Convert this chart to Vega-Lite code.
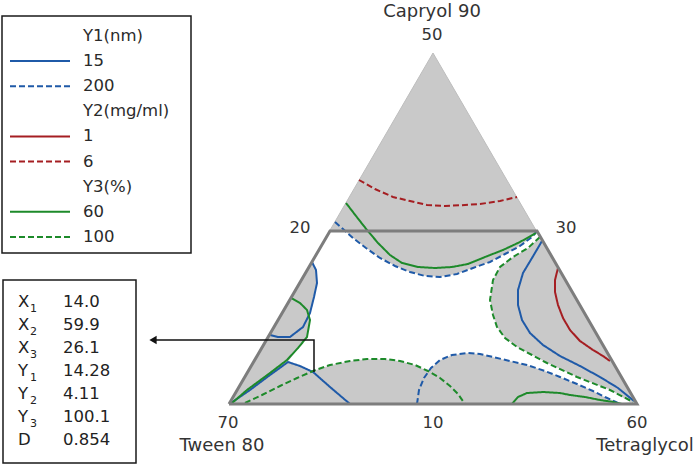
{
"$schema":"https://vega.github.io/schema/vega-lite/v6.json",
"width":699,"height":464,"padding":0,
"autosize":{"type":"fit","contains":"padding"},
"background":"white",
"config":{"view":{"stroke":null}},
"datasets":{
"poly":[
{"p":"tri","x":229,"y":404},{"p":"tri","x":433,"y":53},{"p":"tri","x":637,"y":404},{"p":"tri","x":229,"y":404},
{"p":"trap","x":229,"y":404},{"p":"trap","x":330,"y":231},{"p":"trap","x":537,"y":231},{"p":"trap","x":637,"y":404},{"p":"trap","x":229,"y":404},
{"p":"white","x":330,"y":231},{"p":"white","x":345,"y":231},{"p":"white","x":353,"y":238},{"p":"white","x":366,"y":248},{"p":"white","x":380,"y":258},{"p":"white","x":395,"y":266},{"p":"white","x":410,"y":272},{"p":"white","x":425,"y":276},{"p":"white","x":440,"y":277},{"p":"white","x":457,"y":274},{"p":"white","x":473,"y":268},{"p":"white","x":490,"y":262},{"p":"white","x":505,"y":254},{"p":"white","x":520,"y":246},{"p":"white","x":532,"y":237},{"p":"white","x":537,"y":231},{"p":"white","x":540,"y":237},{"p":"white","x":528,"y":248},{"p":"white","x":513,"y":257},{"p":"white","x":500,"y":267},{"p":"white","x":493,"y":280},{"p":"white","x":490,"y":300},{"p":"white","x":493,"y":315},{"p":"white","x":497,"y":327},{"p":"white","x":505,"y":338},{"p":"white","x":517,"y":347},{"p":"white","x":532,"y":355},{"p":"white","x":547,"y":363},{"p":"white","x":577,"y":377},{"p":"white","x":610,"y":390},{"p":"white","x":630,"y":402},{"p":"white","x":620,"y":403},{"p":"white","x":605,"y":397},{"p":"white","x":593,"y":391},{"p":"white","x":577,"y":384},{"p":"white","x":560,"y":377},{"p":"white","x":545,"y":371},{"p":"white","x":527,"y":365},{"p":"white","x":510,"y":361},{"p":"white","x":493,"y":357},{"p":"white","x":480,"y":354},{"p":"white","x":467,"y":353},{"p":"white","x":452,"y":355},{"p":"white","x":440,"y":360},{"p":"white","x":431,"y":368},{"p":"white","x":428,"y":371},{"p":"white","x":415,"y":365},{"p":"white","x":400,"y":361},{"p":"white","x":385,"y":359},{"p":"white","x":367,"y":359},{"p":"white","x":350,"y":361},{"p":"white","x":330,"y":365},{"p":"white","x":313,"y":371},{"p":"white","x":300,"y":366},{"p":"white","x":288,"y":362},{"p":"white","x":298,"y":348},{"p":"white","x":307,"y":337},{"p":"white","x":310,"y":320},{"p":"white","x":310,"y":314},{"p":"white","x":314,"y":297},{"p":"white","x":317,"y":283},{"p":"white","x":316,"y":270},{"p":"white","x":312,"y":262},{"p":"white","x":330,"y":231}
],
"contours":[
{"c":"1a","r":"Y1","l":"low","x":312,"y":262},{"c":"1a","r":"Y1","l":"low","x":316,"y":270},{"c":"1a","r":"Y1","l":"low","x":317,"y":283},{"c":"1a","r":"Y1","l":"low","x":314,"y":297},{"c":"1a","r":"Y1","l":"low","x":310,"y":313},{"c":"1a","r":"Y1","l":"low","x":303,"y":327},{"c":"1a","r":"Y1","l":"low","x":290,"y":337},{"c":"1a","r":"Y1","l":"low","x":278,"y":337},{"c":"1a","r":"Y1","l":"low","x":270,"y":335},
{"c":"1b","r":"Y1","l":"low","x":231,"y":403},{"c":"1b","r":"Y1","l":"low","x":250,"y":390},{"c":"1b","r":"Y1","l":"low","x":270,"y":375},{"c":"1b","r":"Y1","l":"low","x":288,"y":362},{"c":"1b","r":"Y1","l":"low","x":300,"y":366},{"c":"1b","r":"Y1","l":"low","x":313,"y":372},{"c":"1b","r":"Y1","l":"low","x":330,"y":387},{"c":"1b","r":"Y1","l":"low","x":350,"y":404},
{"c":"1c","r":"Y1","l":"low","x":542,"y":241},{"c":"1c","r":"Y1","l":"low","x":532,"y":258},{"c":"1c","r":"Y1","l":"low","x":523,"y":273},{"c":"1c","r":"Y1","l":"low","x":518,"y":290},{"c":"1c","r":"Y1","l":"low","x":518,"y":305},{"c":"1c","r":"Y1","l":"low","x":522,"y":320},{"c":"1c","r":"Y1","l":"low","x":530,"y":333},{"c":"1c","r":"Y1","l":"low","x":543,"y":345},{"c":"1c","r":"Y1","l":"low","x":560,"y":356},{"c":"1c","r":"Y1","l":"low","x":580,"y":366},{"c":"1c","r":"Y1","l":"low","x":600,"y":377},{"c":"1c","r":"Y1","l":"low","x":618,"y":388},{"c":"1c","r":"Y1","l":"low","x":634,"y":401},
{"c":"1d","r":"Y1","l":"high","x":335,"y":222},{"c":"1d","r":"Y1","l":"high","x":343,"y":229},{"c":"1d","r":"Y1","l":"high","x":353,"y":238},{"c":"1d","r":"Y1","l":"high","x":366,"y":248},{"c":"1d","r":"Y1","l":"high","x":380,"y":258},{"c":"1d","r":"Y1","l":"high","x":395,"y":266},{"c":"1d","r":"Y1","l":"high","x":410,"y":272},{"c":"1d","r":"Y1","l":"high","x":425,"y":276},{"c":"1d","r":"Y1","l":"high","x":440,"y":277},{"c":"1d","r":"Y1","l":"high","x":457,"y":274},{"c":"1d","r":"Y1","l":"high","x":473,"y":268},{"c":"1d","r":"Y1","l":"high","x":490,"y":262},{"c":"1d","r":"Y1","l":"high","x":505,"y":254},{"c":"1d","r":"Y1","l":"high","x":520,"y":246},{"c":"1d","r":"Y1","l":"high","x":532,"y":237},{"c":"1d","r":"Y1","l":"high","x":537,"y":231},
{"c":"1e","r":"Y1","l":"high","x":417,"y":404},{"c":"1e","r":"Y1","l":"high","x":419,"y":390},{"c":"1e","r":"Y1","l":"high","x":424,"y":378},{"c":"1e","r":"Y1","l":"high","x":431,"y":368},{"c":"1e","r":"Y1","l":"high","x":440,"y":360},{"c":"1e","r":"Y1","l":"high","x":452,"y":355},{"c":"1e","r":"Y1","l":"high","x":467,"y":353},{"c":"1e","r":"Y1","l":"high","x":480,"y":354},{"c":"1e","r":"Y1","l":"high","x":493,"y":357},{"c":"1e","r":"Y1","l":"high","x":510,"y":361},{"c":"1e","r":"Y1","l":"high","x":527,"y":365},{"c":"1e","r":"Y1","l":"high","x":545,"y":371},{"c":"1e","r":"Y1","l":"high","x":560,"y":377},{"c":"1e","r":"Y1","l":"high","x":577,"y":384},{"c":"1e","r":"Y1","l":"high","x":593,"y":391},{"c":"1e","r":"Y1","l":"high","x":605,"y":397},{"c":"1e","r":"Y1","l":"high","x":620,"y":404},
{"c":"2a","r":"Y2","l":"low","x":558,"y":268},{"c":"2a","r":"Y2","l":"low","x":555,"y":280},{"c":"2a","r":"Y2","l":"low","x":555,"y":292},{"c":"2a","r":"Y2","l":"low","x":558,"y":305},{"c":"2a","r":"Y2","l":"low","x":563,"y":318},{"c":"2a","r":"Y2","l":"low","x":570,"y":330},{"c":"2a","r":"Y2","l":"low","x":580,"y":341},{"c":"2a","r":"Y2","l":"low","x":593,"y":350},{"c":"2a","r":"Y2","l":"low","x":603,"y":356},{"c":"2a","r":"Y2","l":"low","x":610,"y":361},
{"c":"2b","r":"Y2","l":"high","x":359,"y":180},{"c":"2b","r":"Y2","l":"high","x":375,"y":189},{"c":"2b","r":"Y2","l":"high","x":393,"y":197},{"c":"2b","r":"Y2","l":"high","x":410,"y":201},{"c":"2b","r":"Y2","l":"high","x":427,"y":205},{"c":"2b","r":"Y2","l":"high","x":445,"y":206},{"c":"2b","r":"Y2","l":"high","x":465,"y":205},{"c":"2b","r":"Y2","l":"high","x":480,"y":204},{"c":"2b","r":"Y2","l":"high","x":500,"y":201},{"c":"2b","r":"Y2","l":"high","x":517,"y":197},
{"c":"3a","r":"Y3","l":"low","x":346,"y":203},{"c":"3a","r":"Y3","l":"low","x":356,"y":216},{"c":"3a","r":"Y3","l":"low","x":367,"y":230},{"c":"3a","r":"Y3","l":"low","x":378,"y":243},{"c":"3a","r":"Y3","l":"low","x":390,"y":255},{"c":"3a","r":"Y3","l":"low","x":402,"y":263},{"c":"3a","r":"Y3","l":"low","x":418,"y":267},{"c":"3a","r":"Y3","l":"low","x":435,"y":268},{"c":"3a","r":"Y3","l":"low","x":452,"y":267},{"c":"3a","r":"Y3","l":"low","x":468,"y":264},{"c":"3a","r":"Y3","l":"low","x":485,"y":257},{"c":"3a","r":"Y3","l":"low","x":503,"y":250},{"c":"3a","r":"Y3","l":"low","x":520,"y":242},{"c":"3a","r":"Y3","l":"low","x":536,"y":233},
{"c":"3b","r":"Y3","l":"low","x":291,"y":298},{"c":"3b","r":"Y3","l":"low","x":300,"y":303},{"c":"3b","r":"Y3","l":"low","x":307,"y":310},{"c":"3b","r":"Y3","l":"low","x":310,"y":320},{"c":"3b","r":"Y3","l":"low","x":307,"y":337},{"c":"3b","r":"Y3","l":"low","x":298,"y":348},{"c":"3b","r":"Y3","l":"low","x":287,"y":360},{"c":"3b","r":"Y3","l":"low","x":270,"y":373},{"c":"3b","r":"Y3","l":"low","x":247,"y":390},{"c":"3b","r":"Y3","l":"low","x":232,"y":403},
{"c":"3c","r":"Y3","l":"low","x":512,"y":404},{"c":"3c","r":"Y3","l":"low","x":518,"y":397},{"c":"3c","r":"Y3","l":"low","x":527,"y":393},{"c":"3c","r":"Y3","l":"low","x":543,"y":392},{"c":"3c","r":"Y3","l":"low","x":560,"y":393},{"c":"3c","r":"Y3","l":"low","x":570,"y":395},{"c":"3c","r":"Y3","l":"low","x":585,"y":397},{"c":"3c","r":"Y3","l":"low","x":600,"y":400},{"c":"3c","r":"Y3","l":"low","x":613,"y":402},{"c":"3c","r":"Y3","l":"low","x":622,"y":404},
{"c":"3d","r":"Y3","l":"high","x":245,"y":403},{"c":"3d","r":"Y3","l":"high","x":262,"y":395},{"c":"3d","r":"Y3","l":"high","x":280,"y":386},{"c":"3d","r":"Y3","l":"high","x":297,"y":378},{"c":"3d","r":"Y3","l":"high","x":313,"y":371},{"c":"3d","r":"Y3","l":"high","x":330,"y":365},{"c":"3d","r":"Y3","l":"high","x":350,"y":361},{"c":"3d","r":"Y3","l":"high","x":367,"y":359},{"c":"3d","r":"Y3","l":"high","x":385,"y":359},{"c":"3d","r":"Y3","l":"high","x":400,"y":361},{"c":"3d","r":"Y3","l":"high","x":415,"y":365},{"c":"3d","r":"Y3","l":"high","x":428,"y":371},{"c":"3d","r":"Y3","l":"high","x":440,"y":378},{"c":"3d","r":"Y3","l":"high","x":450,"y":386},{"c":"3d","r":"Y3","l":"high","x":458,"y":394},{"c":"3d","r":"Y3","l":"high","x":465,"y":404},
{"c":"3e","r":"Y3","l":"high","x":540,"y":237},{"c":"3e","r":"Y3","l":"high","x":528,"y":248},{"c":"3e","r":"Y3","l":"high","x":513,"y":257},{"c":"3e","r":"Y3","l":"high","x":500,"y":267},{"c":"3e","r":"Y3","l":"high","x":493,"y":280},{"c":"3e","r":"Y3","l":"high","x":490,"y":300},{"c":"3e","r":"Y3","l":"high","x":493,"y":315},{"c":"3e","r":"Y3","l":"high","x":497,"y":327},{"c":"3e","r":"Y3","l":"high","x":505,"y":338},{"c":"3e","r":"Y3","l":"high","x":517,"y":347},{"c":"3e","r":"Y3","l":"high","x":532,"y":355},{"c":"3e","r":"Y3","l":"high","x":547,"y":363},{"c":"3e","r":"Y3","l":"high","x":577,"y":377},{"c":"3e","r":"Y3","l":"high","x":610,"y":390},{"c":"3e","r":"Y3","l":"high","x":633,"y":402}
],
"boxes":[{"b":"legend","x":2,"x2":191,"y":16,"y2":253},{"b":"optimum","x":3,"x2":136,"y":280,"y2":463}],
"pointer":[{"o":0,"x":155,"y":340},{"o":1,"x":314,"y":340},{"o":2,"x":314,"y":372}],
"tip":[{"x":153,"y":340}],
"names":[{"t":"Capryol 90","x":432,"y":12},{"t":"Tween 80","x":222,"y":446},{"t":"Tetraglycol","x":645,"y":446}],
"ticks":[{"t":"50","x":432,"y":35},{"t":"20","x":300,"y":228},{"t":"30","x":566,"y":228},{"t":"70","x":228,"y":423},{"t":"10","x":433,"y":423},{"t":"60","x":637,"y":423}],
"legend":[
{"row":0,"t":"Y1(nm)"},{"row":1,"t":"15","r":"Y1","l":"low"},{"row":2,"t":"200","r":"Y1","l":"high"},
{"row":3,"t":"Y2(mg/ml)"},{"row":4,"t":"1","r":"Y2","l":"low"},{"row":5,"t":"6","r":"Y2","l":"high"},
{"row":6,"t":"Y3(%)"},{"row":7,"t":"60","r":"Y3","l":"low"},{"row":8,"t":"100","r":"Y3","l":"high"}
],
"table":[
{"row":0,"s":"X","sub":"1","v":"14.0"},{"row":1,"s":"X","sub":"2","v":"59.9"},{"row":2,"s":"X","sub":"3","v":"26.1"},
{"row":3,"s":"Y","sub":"1","v":"14.28"},{"row":4,"s":"Y","sub":"2","v":"4.11"},{"row":5,"s":"Y","sub":"3","v":"100.1"},
{"row":6,"s":"D","sub":"","v":" 0.854"}
]
},
"resolve":{"scale":{"y":"independent"}},
"layer":[
{
"encoding":{
"x":{"field":"x","type":"quantitative","scale":{"domain":[0,699],"nice":false,"zero":false},"axis":null},
"y":{"field":"y","type":"quantitative","scale":{"domain":[0,464],"nice":false,"zero":false,"reverse":true},"axis":null}
},
"layer":[
{"data":{"name":"poly"},"transform":[{"filter":"datum.p==='tri'"}],"mark":{"type":"line","fill":"#c9c9c9","stroke":"#bdbdbd","strokeWidth":1},"encoding":{"order":{"value":null}}},
{"data":{"name":"poly"},"transform":[{"filter":"datum.p==='white'"}],"mark":{"type":"line","fill":"#ffffff","stroke":"#ffffff","strokeWidth":0.5},"encoding":{"order":{"value":null}}},
{"data":{"name":"contours"},"mark":{"type":"line","strokeWidth":2},"encoding":{
"detail":{"field":"c"},
"order":{"value":null},
"color":{"field":"r","type":"nominal","scale":{"domain":["Y1","Y2","Y3"],"range":["#1f5aa8","#a51e22","#1d8a2a"]},"legend":null},
"strokeDash":{"field":"l","type":"nominal","scale":{"domain":["low","high"],"range":[[1,0],[6,3]]},"legend":null}
}},
{"data":{"name":"poly"},"transform":[{"filter":"datum.p==='trap'"}],"mark":{"type":"line","stroke":"#7d7d7d","strokeWidth":3,"strokeJoin":"miter"},"encoding":{"order":{"value":null}}},
{"data":{"name":"pointer"},"mark":{"type":"line","stroke":"#111111","strokeWidth":1.5,"strokeJoin":"miter"},"encoding":{"order":{"field":"o","type":"quantitative"}}},
{"data":{"name":"tip"},"mark":{"type":"point","shape":"triangle-left","filled":true,"color":"#111111","size":70,"opacity":1}},
{"data":{"name":"boxes"},"mark":{"type":"rect","fill":"transparent","stroke":"#1a1a1a","strokeWidth":1.5},"encoding":{"x2":{"field":"x2"},"y2":{"field":"y2"}}},
{"data":{"name":"names"},"mark":{"type":"text","font":"DejaVu Sans","fontSize":18,"color":"#333333"},"encoding":{"text":{"field":"t"}}},
{"data":{"name":"ticks"},"mark":{"type":"text","font":"DejaVu Sans","fontSize":16.5,"color":"#333333"},"encoding":{"text":{"field":"t"}}}
]
},
{
"data":{"name":"legend"},
"encoding":{
"y":{"field":"row","type":"quantitative","scale":{"domain":[-1.4328,17.035],"nice":false,"zero":false,"reverse":true},"axis":null}
},
"layer":[
{"transform":[{"filter":"isValid(datum.r)"}],"mark":{"type":"rule","strokeWidth":2},"encoding":{
"x":{"datum":10,"type":"quantitative","scale":{"domain":[0,699],"nice":false,"zero":false},"axis":null},
"x2":{"datum":70},
"color":{"field":"r","type":"nominal","scale":{"domain":["Y1","Y2","Y3"],"range":["#1f5aa8","#a51e22","#1d8a2a"]},"legend":null},
"strokeDash":{"field":"l","type":"nominal","scale":{"domain":["low","high"],"range":[[1,0],[6,3]]},"legend":null}
}},
{"mark":{"type":"text","align":"left","font":"DejaVu Sans","fontSize":16.5,"color":"#2a2a2a"},"encoding":{
"x":{"datum":83,"type":"quantitative","scale":{"domain":[0,699],"nice":false,"zero":false},"axis":null},
"text":{"field":"t"}
}}
]
},
{
"data":{"name":"table"},
"encoding":{
"y":{"field":"row","type":"quantitative","scale":{"domain":[-13.1304,7.0435],"nice":false,"zero":false,"reverse":true},"axis":null}
},
"layer":[
{"mark":{"type":"text","align":"left","font":"DejaVu Sans","fontSize":16.5,"color":"#222222"},"encoding":{
"x":{"datum":18,"type":"quantitative","scale":{"domain":[0,699],"nice":false,"zero":false},"axis":null},
"text":{"field":"s"}}},
{"mark":{"type":"text","align":"left","font":"DejaVu Sans","fontSize":11,"dy":7,"color":"#222222"},"encoding":{
"x":{"datum":30,"type":"quantitative","scale":{"domain":[0,699],"nice":false,"zero":false},"axis":null},
"text":{"field":"sub"}}},
{"mark":{"type":"text","align":"left","font":"DejaVu Sans","fontSize":16.5,"color":"#222222"},"encoding":{
"x":{"datum":63,"type":"quantitative","scale":{"domain":[0,699],"nice":false,"zero":false},"axis":null},
"text":{"field":"v"}}}
]
}
]
}
